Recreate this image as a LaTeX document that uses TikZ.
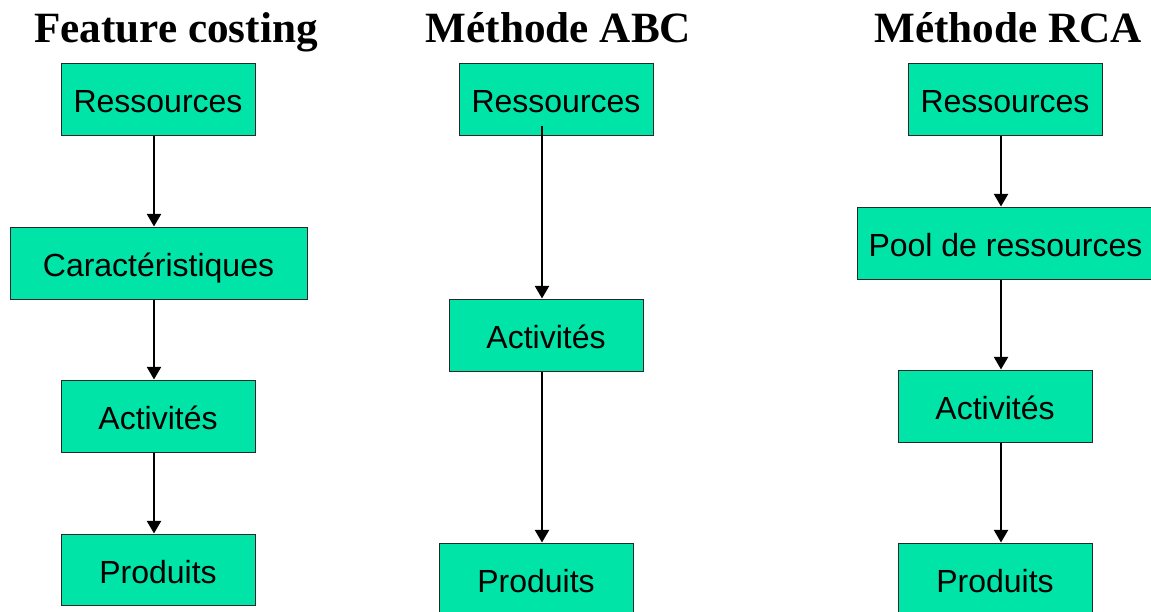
\documentclass[tikz,border=0pt]{standalone}
\usepackage{fontspec}
\setmainfont{Liberation Sans}
\newfontfamily\serifhead{Liberation Serif}
\usetikzlibrary{arrows.meta}
\definecolor{boxgreen}{RGB}{0,228,168}
\definecolor{boxline}{RGB}{40,40,40}
\begin{document}
\begin{tikzpicture}[x=0.75pt,y=-0.75pt,
  coltitle/.style={anchor=base,inner sep=0pt,
    font=\serifhead\bfseries\fontsize{32.4pt}{36pt}\selectfont},
  stagebox/.style={draw=boxline,line width=0.75pt,fill=boxgreen,
    rectangle,inner sep=0pt,minimum width=145.5pt,minimum height=54pt,
    text height=20.25pt,text depth=0pt,
    font=\fontsize{24pt}{28pt}\selectfont},
  widebox/.style={stagebox,minimum width=222.75pt},
  flow/.style={line width=1.8pt,-{Triangle[width=10.5pt,length=9.5pt]}}]
\clip (0,0) rectangle (1151,611);
\fill[white] (0,0) rectangle (1151,611);

% column headings
\node[coltitle] (t1) at (176,42) {Feature costing};
\node[coltitle] (t2) at (558.5,42) {Méthode ABC};
\node[coltitle] (t3) at (1008,42) {Méthode RCA};

% feature costing chain
\node[stagebox] (fr) at (158,99) {Ressources};
\node[widebox]  (fc) at (158.5,263) {Caractéristiques};
\node[stagebox] (fa) at (158,416) {Activités};
\node[stagebox,minimum height=53.25pt] (fp) at (158,569.5) {Produits};

% ABC chain
\node[stagebox] (ar) at (556,99) {Ressources};
\node[stagebox] (aa) at (546,335) {Activités};
\node[stagebox] (ap) at (536,579) {Produits};

% RCA chain
\node[stagebox] (rr) at (1005,99) {Ressources};
\node[widebox]  (rp) at (1005.5,243) {Pool de ressources};
\node[stagebox] (ra) at (995,406) {Activités};
\node[stagebox] (rd) at (995,579) {Produits};

% vertical lines carrying the arrows
\coordinate (x1) at (154,0);
\coordinate (x2) at (542,0);
\coordinate (x3) at (1001,0);

\draw[flow] (fr.south -| x1) -- (fc.north -| x1);
\draw[flow] (fc.south -| x1) -- (fa.north -| x1);
\draw[flow] (fa.south -| x1) -- (fp.north -| x1);

\draw[flow] ([yshift=7.5pt]ar.south -| x2) -- (aa.north -| x2);
\draw[flow] (aa.south -| x2) -- (ap.north -| x2);

\draw[flow] (rr.south -| x3) -- (rp.north -| x3);
\draw[flow] (rp.south -| x3) -- (ra.north -| x3);
\draw[flow] (ra.south -| x3) -- (rd.north -| x3);
\end{tikzpicture}
\end{document}
